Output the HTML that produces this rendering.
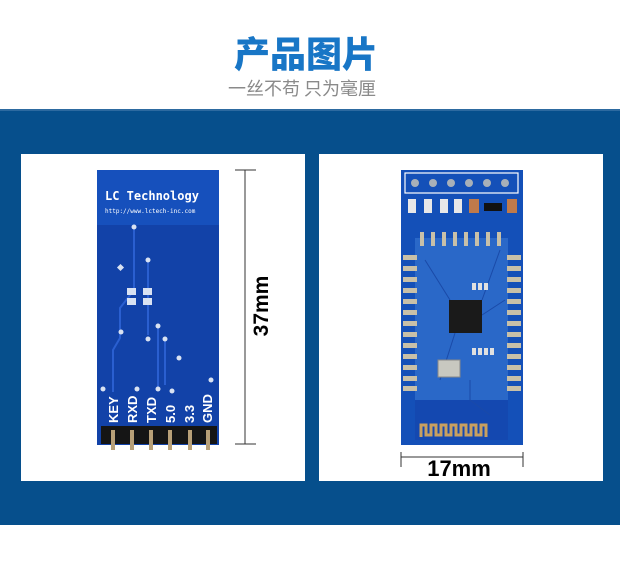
<!DOCTYPE html>
<html><head><meta charset="utf-8"><style>
html,body{margin:0;padding:0;background:#fff}
body{width:620px;height:572px;overflow:hidden;position:relative}
</style></head><body>
<svg width="620" height="572" viewBox="0 0 620 572" xmlns="http://www.w3.org/2000/svg" style="position:absolute;left:0;top:0">
<rect width="620" height="572" fill="#fff"/>
<text x="306" y="67" text-anchor="middle" font-family="'Noto Sans CJK SC',sans-serif" font-weight="900" font-size="36" fill="#1876c6">产品图片</text>
<text x="302" y="95" text-anchor="middle" font-family="'Noto Sans CJK SC',sans-serif" font-size="18" fill="#8a8a8a">一丝不苟 只为毫厘</text>
<rect x="0" y="109" width="620" height="416" fill="#064f8c"/>
<rect x="0" y="109" width="620" height="2" fill="#2d6aa0"/>
<rect x="21" y="154" width="284" height="327" fill="#fff"/>
<rect x="319" y="154" width="284" height="327" fill="#fff"/>
<!-- left PCB -->
<rect x="97" y="170" width="122" height="275" fill="#1242a8"/>
<rect x="97" y="170" width="122" height="55" fill="#1650bc"/>
<text x="105" y="200" font-family="'DejaVu Sans Mono',monospace" font-weight="bold" font-size="12" fill="#fff">LC Technology</text>
<text x="105" y="213" font-family="'DejaVu Sans Mono',monospace" font-size="6" fill="#fff">http://www.lctech-inc.com</text>
<g stroke="#2a5fd0" stroke-width="2" fill="none">
<path d="M134 226 V290 L120 308 V338 L113 350 V392"/>
<path d="M148 260 V335"/><path d="M158 326 V388"/><path d="M165 338 V385"/>
</g>
<g fill="#d9e2f2">
<circle cx="134" cy="227" r="2.5"/><circle cx="148" cy="260" r="2.5"/><circle cx="121" cy="332" r="2.5"/>
<circle cx="148" cy="339" r="2.5"/><circle cx="158" cy="326" r="2.5"/><circle cx="165" cy="339" r="2.5"/>
<circle cx="179" cy="358" r="2.5"/><circle cx="211" cy="380" r="2.5"/><circle cx="103" cy="389" r="2.5"/>
<circle cx="137" cy="389" r="2.5"/><circle cx="158" cy="389" r="2.5"/><circle cx="172" cy="391" r="2.5"/>
<rect x="118" y="265" width="5" height="5" transform="rotate(45 120.5 267.5)"/>
<rect x="127" y="288" width="9" height="7"/><rect x="127" y="298" width="9" height="7"/>
<rect x="143" y="288" width="9" height="7"/><rect x="143" y="298" width="9" height="7"/>
</g>
<g font-family="'Liberation Sans',sans-serif" font-weight="bold" font-size="13" fill="#fff">
<text transform="translate(118,423) rotate(-90)">KEY</text>
<text transform="translate(137,423) rotate(-90)">RXD</text>
<text transform="translate(156,423) rotate(-90)">TXD</text>
<text transform="translate(175,423) rotate(-90)">5.0</text>
<text transform="translate(194,423) rotate(-90)">3.3</text>
<text transform="translate(212,423) rotate(-90)">GND</text>
</g>
<rect x="101" y="426" width="116" height="18" fill="#151515"/>
<g fill="#b8a078"><rect x="111" y="430" width="4" height="20"/><rect x="130" y="430" width="4" height="20"/><rect x="149" y="430" width="4" height="20"/><rect x="168" y="430" width="4" height="20"/><rect x="188" y="430" width="4" height="20"/><rect x="206" y="430" width="4" height="20"/></g>
<!-- 37mm -->
<g stroke="#333" stroke-width="1"><line x1="245" y1="170" x2="245" y2="444"/><line x1="235" y1="170" x2="256" y2="170"/><line x1="235" y1="444" x2="256" y2="444"/></g>
<text transform="translate(268,306) rotate(-90)" text-anchor="middle" font-family="'Liberation Sans',sans-serif" font-weight="bold" font-size="21" fill="#000">37mm</text>
<!-- right PCB -->
<rect x="401" y="170" width="122" height="275" fill="#1450b8"/>
<rect x="405" y="173" width="113" height="20" fill="none" stroke="#fff" stroke-width="1.2"/>
<g fill="#a8b0b8"><circle cx="415" cy="183" r="4"/><circle cx="433" cy="183" r="4"/><circle cx="451" cy="183" r="4"/><circle cx="469" cy="183" r="4"/><circle cx="487" cy="183" r="4"/><circle cx="505" cy="183" r="4"/></g>
<g fill="#e8e8e8"><rect x="408" y="199" width="8" height="14"/><rect x="424" y="199" width="8" height="14"/><rect x="440" y="199" width="8" height="14"/><rect x="454" y="199" width="8" height="14"/></g>
<g fill="#c07a4a"><rect x="469" y="199" width="10" height="14"/><rect x="507" y="199" width="10" height="14"/></g>
<rect x="484" y="203" width="18" height="8" fill="#111"/>
<rect x="415" y="238" width="93" height="202" fill="#2a68c8"/>
<rect x="415" y="400" width="93" height="40" fill="#1448b0"/>
<g fill="#c8c0a8">
<rect x="420" y="232" width="4" height="14"/><rect x="431" y="232" width="4" height="14"/><rect x="442" y="232" width="4" height="14"/><rect x="453" y="232" width="4" height="14"/><rect x="464" y="232" width="4" height="14"/><rect x="475" y="232" width="4" height="14"/><rect x="486" y="232" width="4" height="14"/><rect x="497" y="232" width="4" height="14"/>
</g>
<g fill="#c8c0a8">
<rect x="403" y="255" width="14" height="5"/><rect x="403" y="266" width="14" height="5"/><rect x="403" y="277" width="14" height="5"/><rect x="403" y="288" width="14" height="5"/><rect x="403" y="299" width="14" height="5"/><rect x="403" y="310" width="14" height="5"/><rect x="403" y="321" width="14" height="5"/><rect x="403" y="332" width="14" height="5"/><rect x="403" y="343" width="14" height="5"/><rect x="403" y="354" width="14" height="5"/><rect x="403" y="365" width="14" height="5"/><rect x="403" y="376" width="14" height="5"/><rect x="403" y="386" width="14" height="5"/>
<rect x="507" y="255" width="14" height="5"/><rect x="507" y="266" width="14" height="5"/><rect x="507" y="277" width="14" height="5"/><rect x="507" y="288" width="14" height="5"/><rect x="507" y="299" width="14" height="5"/><rect x="507" y="310" width="14" height="5"/><rect x="507" y="321" width="14" height="5"/><rect x="507" y="332" width="14" height="5"/><rect x="507" y="343" width="14" height="5"/><rect x="507" y="354" width="14" height="5"/><rect x="507" y="365" width="14" height="5"/><rect x="507" y="376" width="14" height="5"/><rect x="507" y="386" width="14" height="5"/>
</g>
<g stroke="#1a4aa8" stroke-width="1" fill="none"><path d="M425 260 L450 300"/><path d="M500 250 L482 300"/><path d="M440 380 L455 333"/><path d="M505 300 L482 315"/><path d="M470 380 V400 L490 415"/></g>
<rect x="449" y="300" width="33" height="33" fill="#1a1a1a"/>
<g fill="#e0e0e0"><rect x="472" y="283" width="4" height="7"/><rect x="478" y="283" width="4" height="7"/><rect x="484" y="283" width="4" height="7"/><rect x="472" y="348" width="4" height="7"/><rect x="478" y="348" width="4" height="7"/><rect x="484" y="348" width="4" height="7"/><rect x="490" y="348" width="4" height="7"/></g>
<rect x="438" y="360" width="22" height="17" fill="#c8c8c0" stroke="#888" stroke-width="1"/>
<path d="M421 437 V425 h5 v10 h5 v-10 h5 v10 h5 v-10 h5 v10 h5 v-10 h5 v10 h5 v-10 h5 v10 h5 v-10 h5 v10 h5 v-10 h5 v12" fill="none" stroke="#c8a060" stroke-width="3"/>
<!-- 17mm -->
<g stroke="#333" stroke-width="1"><line x1="401" y1="457" x2="523" y2="457"/><line x1="401" y1="452" x2="401" y2="467"/><line x1="523" y1="452" x2="523" y2="467"/></g>
<text x="459" y="476" text-anchor="middle" font-family="'Liberation Sans',sans-serif" font-weight="bold" font-size="22" fill="#000">17mm</text>
</svg>
</body></html>
